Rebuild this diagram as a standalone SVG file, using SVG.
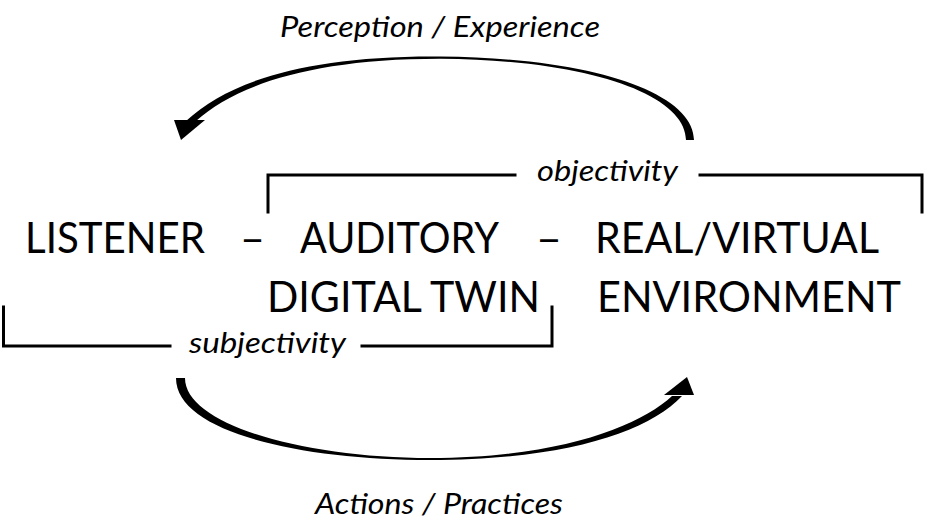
<svg xmlns="http://www.w3.org/2000/svg" width="934" height="528" viewBox="0 0 934 528">
<style>
  .main { font-family: Lato, "Open Sans", "Liberation Sans", sans-serif; font-size: 42px; fill: #000; }
  .lbl { font-family: Lato, "Open Sans", "Liberation Sans", sans-serif; font-size: 28px; font-style: italic; fill: #000; }
  .br { fill: none; stroke: #000; stroke-width: 3; stroke-linecap: square; }
  .arc { fill: #000; stroke: none; }
</style>
<rect width="934" height="528" fill="#fff"/>

<g id="node-listener">
  <text class="main" x="25" y="253" textLength="180" lengthAdjust="spacingAndGlyphs">LISTENER</text>
</g>
<g id="dash-1">
  <text class="main" x="240" y="253" textLength="25" lengthAdjust="spacingAndGlyphs">–</text>
</g>
<g id="node-twin">
  <text class="main" x="300" y="253" textLength="199" lengthAdjust="spacingAndGlyphs">AUDITORY</text>
  <text class="main" x="267" y="312" textLength="273" lengthAdjust="spacingAndGlyphs">DIGITAL TWIN</text>
</g>
<g id="dash-2">
  <text class="main" x="536" y="253" textLength="26" lengthAdjust="spacingAndGlyphs">–</text>
</g>
<g id="node-environment">
  <text class="main" x="595" y="253" textLength="284" lengthAdjust="spacingAndGlyphs">REAL/VIRTUAL</text>
  <text class="main" x="597" y="312" textLength="304" lengthAdjust="spacingAndGlyphs">ENVIRONMENT</text>
</g>

<g id="objectivity">
  <path class="br" d="M268,212 V175 H515 M700,175 H922 V212"/>
  <text class="lbl" x="537" y="181" textLength="141" lengthAdjust="spacingAndGlyphs">objectivity</text>
</g>
<g id="subjectivity">
  <path class="br" d="M3.5,307 V346 H170 M362,346 H552 V307"/>
  <text class="lbl" x="189" y="353" textLength="157" lengthAdjust="spacingAndGlyphs">subjectivity</text>
</g>

<g id="connectors">
  <g id="perception-arrow">
    <path class="arc" d="M694,140 C694,95 600,58 440,56.5 C310,55.5 230,80 186,121 L196,121 C235,86 310,58.8 440,58.8 C596,59.8 686,97 686,140 Z"/>
    <polygon class="arc" points="174,120 205,120 181,140"/>
  </g>
  <g id="actions-arrow">
    <path class="arc" d="M176,378 C176,432 300,460 430,460 C565,460 648,432 682,396 L672,396 C640,426 560,458 430,458 C305,458 185,425 185,378 Z"/>
    <polygon class="arc" points="664,395 694,395 687,377"/>
  </g>
</g>

<g id="label-perception">
  <text class="lbl" x="280" y="37" textLength="320" lengthAdjust="spacingAndGlyphs">Perception / Experience</text>
</g>
<g id="label-actions">
  <text class="lbl" x="315" y="514" textLength="248" lengthAdjust="spacingAndGlyphs">Actions / Practices</text>
</g>
</svg>
